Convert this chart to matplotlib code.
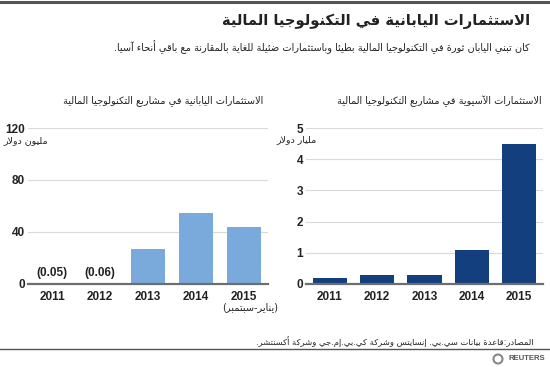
import matplotlib
matplotlib.use("Agg")
import matplotlib.pyplot as plt
from matplotlib.patches import Ellipse

# ---------------- data ----------------
years = ["2011", "2012", "2013", "2014", "2015"]
japan_values = [0.05, 0.06, 27, 55, 44]          # million USD
japan_labels = ["(0.05)", "(0.06)", "", "", ""]
asia_values = [0.2, 0.3, 0.3, 1.1, 4.5]          # billion USD
japan_ticks = [0, 40, 80, 120]
asia_ticks = [0, 1, 2, 3, 4, 5]

title = "الاستثمارات اليابانية في التكنولوجيا المالية"
subtitle = "كان تبني اليابان ثورة في التكنولوجيا المالية بطيئا وباستثمارات ضئيلة للغاية بالمقارنة مع باقي أنحاء آسيا."
left_title = "الاستثمارات اليابانية في مشاريع التكنولوجيا المالية"
right_title = "الاستثمارات الآسيوية في مشاريع التكنولوجيا المالية"
left_unit = "مليون دولار"
right_unit = "مليار دولار"
period_note = "(يناير-سبتمبر)"
source = "المصادر:قاعدة بيانات سي.بي. إنسايتس وشركة كي.بي.إم.جي وشركة أكسنتشر."

# ------------- minimal Arabic shaping (matplotlib has no text shaping) -------------
_forms = {  # char: (isolated, final, initial, medial)
    '\u0621': (0xFE80,), '\u0622': (0xFE81, 0xFE82), '\u0623': (0xFE83, 0xFE84),
    '\u0624': (0xFE85, 0xFE86), '\u0625': (0xFE87, 0xFE88), '\u0626': (0xFE89, 0xFE8A, 0xFE8B, 0xFE8C),
    '\u0627': (0xFE8D, 0xFE8E), '\u0628': (0xFE8F, 0xFE90, 0xFE91, 0xFE92), '\u0629': (0xFE93, 0xFE94),
    '\u062A': (0xFE95, 0xFE96, 0xFE97, 0xFE98), '\u062B': (0xFE99, 0xFE9A, 0xFE9B, 0xFE9C),
    '\u062C': (0xFE9D, 0xFE9E, 0xFE9F, 0xFEA0), '\u062D': (0xFEA1, 0xFEA2, 0xFEA3, 0xFEA4),
    '\u062E': (0xFEA5, 0xFEA6, 0xFEA7, 0xFEA8), '\u062F': (0xFEA9, 0xFEAA), '\u0630': (0xFEAB, 0xFEAC),
    '\u0631': (0xFEAD, 0xFEAE), '\u0632': (0xFEAF, 0xFEB0), '\u0633': (0xFEB1, 0xFEB2, 0xFEB3, 0xFEB4),
    '\u0634': (0xFEB5, 0xFEB6, 0xFEB7, 0xFEB8), '\u0635': (0xFEB9, 0xFEBA, 0xFEBB, 0xFEBC),
    '\u0636': (0xFEBD, 0xFEBE, 0xFEBF, 0xFEC0), '\u0637': (0xFEC1, 0xFEC2, 0xFEC3, 0xFEC4),
    '\u0638': (0xFEC5, 0xFEC6, 0xFEC7, 0xFEC8), '\u0639': (0xFEC9, 0xFECA, 0xFECB, 0xFECC),
    '\u063A': (0xFECD, 0xFECE, 0xFECF, 0xFED0), '\u0641': (0xFED1, 0xFED2, 0xFED3, 0xFED4),
    '\u0642': (0xFED5, 0xFED6, 0xFED7, 0xFED8), '\u0643': (0xFED9, 0xFEDA, 0xFEDB, 0xFEDC),
    '\u0644': (0xFEDD, 0xFEDE, 0xFEDF, 0xFEE0), '\u0645': (0xFEE1, 0xFEE2, 0xFEE3, 0xFEE4),
    '\u0646': (0xFEE5, 0xFEE6, 0xFEE7, 0xFEE8), '\u0647': (0xFEE9, 0xFEEA, 0xFEEB, 0xFEEC),
    '\u0648': (0xFEED, 0xFEEE), '\u0649': (0xFEEF, 0xFEF0), '\u064A': (0xFEF1, 0xFEF2, 0xFEF3, 0xFEF4),
}
_lamalef = {'\u0622': (0xFEF5, 0xFEF6), '\u0623': (0xFEF7, 0xFEF8),
            '\u0625': (0xFEF9, 0xFEFA), '\u0627': (0xFEFB, 0xFEFC)}
_mirror = {'(': ')', ')': '(', '[': ']', ']': '['}


def ar(text):
    units = []
    i = 0
    while i < len(text):
        c = text[i]
        if c == '\u0644' and i + 1 < len(text) and text[i + 1] in _lamalef:
            units.append(('LA', _lamalef[text[i + 1]]))
            i += 2
        elif c in _forms:
            units.append(('AR', _forms[c]))
            i += 1
        else:
            units.append(('X', c))
            i += 1

    def dual(u):
        return u[0] == 'AR' and len(u[1]) == 4

    out = []
    for k, u in enumerate(units):
        if u[0] == 'X':
            out.append(_mirror.get(u[1], u[1]))
            continue
        prev_j = k > 0 and dual(units[k - 1])
        next_j = dual(u) and k + 1 < len(units) and units[k + 1][0] != 'X'
        f = u[1]
        if len(f) == 1:
            out.append(chr(f[0]))
        elif len(f) == 2:
            out.append(chr(f[1] if prev_j else f[0]))
        else:
            if prev_j and next_j:
                out.append(chr(f[3]))
            elif prev_j:
                out.append(chr(f[1]))
            elif next_j:
                out.append(chr(f[2]))
            else:
                out.append(chr(f[0]))
    return ''.join(reversed(out))


# ---------------- figure ----------------
W, H = 550, 367
fig = plt.figure(figsize=(W / 100, H / 100), dpi=100)
fig.patch.set_facecolor("white")

AR_FONT = ["DejaVu Sans"]
NUM_FONT = ["Liberation Sans", "DejaVu Sans"]
TXT = "#222222"


def px(x, y):
    return x / W, 1 - y / H


def ftext(x, y, s, **kw):
    fig.text(*px(x, y), s, **kw)


# top rule
fig.add_artist(plt.Line2D([0, 1], [1 - 2 / H, 1 - 2 / H], color="#555555", lw=2.2))

ftext(530, 21, ar(title), ha="right", va="center", fontsize=10.6, fontweight="bold",
      family=AR_FONT, color=TXT)
ftext(530, 47, ar(subtitle), ha="right", va="center", fontsize=7.0,
      family=AR_FONT, color=TXT)

ftext(263, 101, ar(left_title), ha="right", va="center", fontsize=7.0, family=AR_FONT, color=TXT)
ftext(542, 101, ar(right_title), ha="right", va="center", fontsize=7.0, family=AR_FONT, color=TXT)


def make_axes(x0, x1, y_top, y_bottom):
    return fig.add_axes([x0 / W, 1 - y_bottom / H, (x1 - x0) / W, (y_bottom - y_top) / H])


def style(ax, ticks, top):
    ax.set_xlim(-0.5, len(years) - 0.5)
    ax.set_ylim(0, top)
    ax.set_yticks(ticks)
    ax.set_yticklabels([str(t) for t in ticks], fontsize=8.5, fontweight="bold",
                       family=NUM_FONT, color=TXT)
    ax.set_xticks(range(len(years)))
    ax.set_xticklabels(years, fontsize=8.5, fontweight="bold", family=NUM_FONT, color=TXT)
    ax.tick_params(axis="both", length=0, pad=2)
    ax.tick_params(axis="x", pad=5)
    for s in ax.spines.values():
        s.set_visible(False)
    ax.grid(axis="y", color="#d9d9d9", lw=0.8)
    ax.set_axisbelow(True)
    ax.axhline(0, color="#6e6e6e", lw=1.6, zorder=3, clip_on=False)
    ax.patch.set_alpha(0)


axL = make_axes(28, 268, 128, 284)
axL.bar(range(len(years)), japan_values, width=0.72, color="#7aaadc", zorder=2)
style(axL, japan_ticks, 120)
for i, lab in enumerate(japan_labels):
    if lab:
        axL.text(i, japan_values[i] + 3.5, lab, ha="center", va="bottom", fontsize=8.5,
                 fontweight="bold", family=NUM_FONT, color=TXT)

axR = make_axes(306, 543, 128, 284)
axR.bar(range(len(years)), asia_values, width=0.72, color="#143f7f", zorder=2)
style(axR, asia_ticks, 5)

# unit labels
ftext(48, 141, ar(left_unit), ha="right", va="center", fontsize=6.8, family=AR_FONT, color=TXT)
ftext(317, 140, ar(right_unit), ha="right", va="center", fontsize=6.8, family=AR_FONT, color=TXT)

# period note under 2015 (left chart)
ftext(250, 307, ar(period_note), ha="center", va="center", fontsize=7.0, family=AR_FONT, color=TXT)

# source
ftext(533, 342, ar(source), ha="right", va="center", fontsize=6.0, family=AR_FONT, color=TXT)

# bottom rule
fig.add_artist(plt.Line2D([0, 1], [1 - 349 / H, 1 - 349 / H], color="#555555", lw=1.0))

# Reuters mark
ftext(545, 359, "REUTERS", ha="right", va="center", fontsize=5.6, fontweight="bold",
      family=NUM_FONT, color="#555555")
fig.add_artist(Ellipse(px(498, 359), 9 / W, 9 / H, transform=fig.transFigure, facecolor="none",
                       edgecolor="#888888", lw=1.5))

fig.savefig("out.png", dpi=100, facecolor="white")
